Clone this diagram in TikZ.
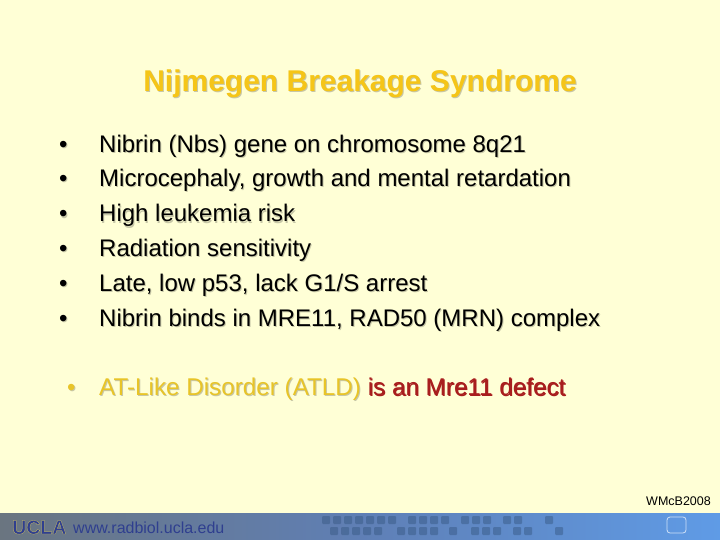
\documentclass[tikz,border=0pt]{standalone}
\usepackage{fontspec}
\usepackage{xcolor}
\setmainfont{Liberation Sans}
\definecolor{slidebg}{HTML}{FFFFD6}
\definecolor{titlegold}{HTML}{F5C518}
\definecolor{linegold}{HTML}{E8C428}
\definecolor{bandgray}{HTML}{6A7580}
\definecolor{bandmid}{HTML}{5F7FB5}
\definecolor{bandblue}{HTML}{5F9BE6}
\definecolor{defectred}{HTML}{A81E1E}
\definecolor{navy}{HTML}{2F3F8F}
\newcommand{\shadowed}[5][]{% name, x, y, text
  \node [#1,shade] (#2s) at (#3+1, #4+1) {#5};
  \node [#1] (#2) at (#3, #4) {#5};
}
\begin{document}
\begin{tikzpicture}
      [ x = 1pt, y = -1pt
      , line/.style =
        { anchor = base west, inner sep = 0pt, font = \fontsize{24}{26}\selectfont, black }
      , shade/.style =
        { text = black!22!slidebg }
      , headline/.style =
        { anchor = base, inner sep = 0pt, font = \fontsize{30}{32}\selectfont\bfseries, titlegold }
      , gold/.style =
        { text = linegold }
      , stamp/.style =
        { anchor = base east, inner sep = 0pt, font = \fontsize{12.5}{14}\selectfont }
      , dot/.style =
        { fill = black!45!bandblue, rounded corners = 1pt }
      , badge/.style =
        { anchor = base west, inner sep = 0pt, font = \fontsize{19.5}{20}\selectfont\bfseries, navy }
      ]
      \fill [slidebg] (0, 0) rectangle (720, 540);
      % footer band
      \fill [left color = bandgray, right color = bandblue, middle color = bandmid] (0, 513) rectangle (720, 540);
      \foreach \x in {322, 333, 344, 355, 366, 377, 388, 408, 419, 430, 441, 461, 472, 483, 503, 514, 545}
        \fill [dot, opacity = .45] (\x, 516) rectangle ++(8, 8);
      \foreach \x in {330, 341, 352, 363, 374, 397, 408, 419, 430, 449, 471, 482, 493, 513, 524, 555}
        \fill [dot, opacity = .45] (\x, 527) rectangle ++(8, 8);
      \draw [white!70!bandblue, thick, rounded corners = 3pt] (667, 517) rectangle (686, 533);
      % title
      \shadowed[headline]{title}{360}{92}{Nijmegen Breakage Syndrome}
      % bullets
      \shadowed[line]{b1}{59}{153}{•}
      \shadowed[line]{t1}{99}{153}{Nibrin (Nbs) gene on chromosome 8q21}
      \shadowed[line]{b2}{59}{187}{•}
      \shadowed[line]{t2}{99}{187}{Microcephaly, growth and mental retardation}
      \shadowed[line]{b3}{59}{222}{•}
      \shadowed[line]{t3}{99}{222}{High leukemia risk}
      \shadowed[line]{b4}{59}{256}{•}
      \shadowed[line]{t4}{99}{256}{Radiation sensitivity}
      \shadowed[line]{b5}{59}{291}{•}
      \shadowed[line]{t5}{99}{291}{Late, low p53, lack G1/S arrest}
      \shadowed[line]{b6}{59}{326}{•}
      \shadowed[line]{t6}{99}{326}{Nibrin binds in MRE11, RAD50 (MRN) complex}
      \shadowed[line,gold]{b7}{67}{395}{•}
      \shadowed[line,gold]{t7}{99}{395}{\fontsize{24.25}{26}\selectfont AT-Like Disorder (ATLD) {\color{defectred}is an Mre11 defect}}
      % footer text
      \node [stamp] (credit) at (711, 505) {WMcB2008};
      \node [badge] (logo) at (12, 534) {\special{pdf: code q 2 Tr 0.25 w 0.85 0.78 0.38 RG}UCLA\special{pdf: code Q}};
      \node [anchor = base west, inner sep = 0pt, font = \fontsize{16}{18}\selectfont, navy] (site) at (73, 533) {www.radbiol.ucla.edu};
\end{tikzpicture}
\end{document}
